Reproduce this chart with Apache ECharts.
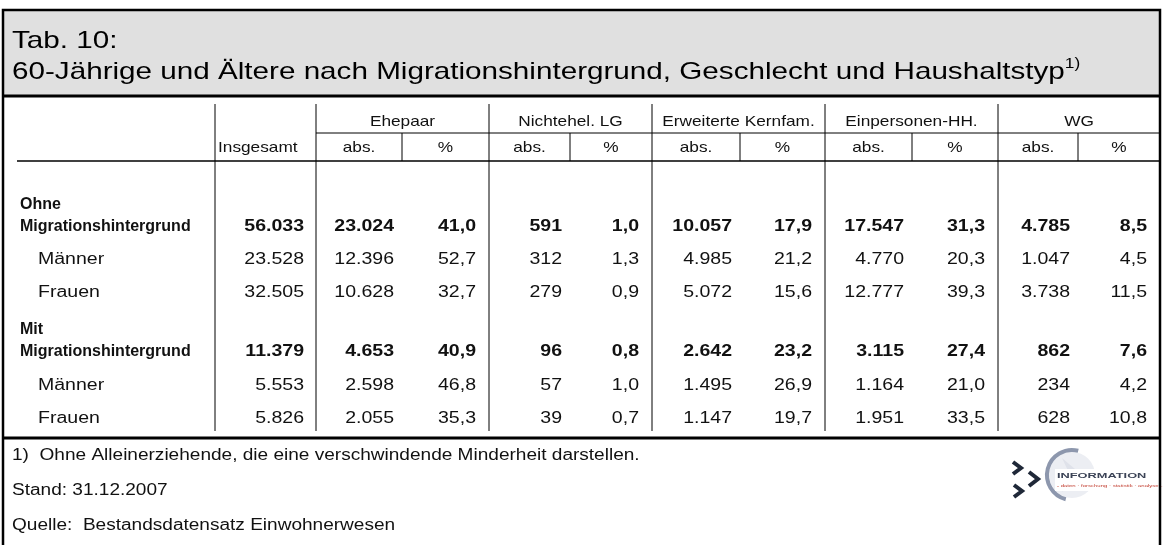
<!DOCTYPE html>
<html>
<head>
<meta charset="utf-8">
<script src="https://cdn.jsdelivr.net/npm/echarts@6/dist/echarts.min.js"></script>
<style>
  html, body { margin: 0; padding: 0; background: #fff; }
  #chart { width: 1163px; height: 545px; }
</style>
</head>
<body>
<div id="chart"></div>
<script>
// table content
const groups = ['Ehepaar', 'Nichtehel. LG', 'Erweiterte Kernfam.', 'Einpersonen-HH.', 'WG'];
const subHeads = ['abs.', '%'];
const totalHead = 'Insgesamt';

const ohneTotal = [56033, 23024, 41.0, 591, 1.0, 10057, 17.9, 17547, 31.3, 4785, 8.5];
const ohneMaenner = [23528, 12396, 52.7, 312, 1.3, 4985, 21.2, 4770, 20.3, 1047, 4.5];
const ohneFrauen = [32505, 10628, 32.7, 279, 0.9, 5072, 15.6, 12777, 39.3, 3738, 11.5];
const mitTotal = [11379, 4653, 40.9, 96, 0.8, 2642, 23.2, 3115, 27.4, 862, 7.6];
const mitMaenner = [5553, 2598, 46.8, 57, 1.0, 1495, 26.9, 1164, 21.0, 234, 4.2];
const mitFrauen = [5826, 2055, 35.3, 39, 0.7, 1147, 19.7, 1951, 33.5, 628, 10.8];

const notes = [
  '1)  Ohne Alleinerziehende, die eine verschwindende Minderheit darstellen.',
  'Stand: 31.12.2007',
  'Quelle:  Bestandsdatensatz Einwohnerwesen'
];

// layout (pixel units of the hidden value axes)
const W = 1163, H = 545;
const COL_EDGES = [215, 316, 402, 489, 570, 652, 740, 825, 912, 998, 1078, 1160];
const PAD_TOTAL = 12, PAD_ABS = 8, PAD_PCT = 13;
const Y_HEAD1 = 122, Y_SUBLINE = 133, Y_HEAD2 = 148, Y_HEADLINE = 161;
const Y_TOP = 104, Y_VEND = 431, Y_BOTTOM = 438;
const ROWS = [
  { y: 227, label: 'Migrationshintergrund', pre: 'Ohne', vals: ohneTotal, bold: true },
  { y: 260, label: 'Männer', vals: ohneMaenner },
  { y: 293, label: 'Frauen', vals: ohneFrauen },
  { y: 352, label: 'Migrationshintergrund', pre: 'Mit', vals: mitTotal, bold: true },
  { y: 386, label: 'Männer', vals: mitMaenner },
  { y: 419, label: 'Frauen', vals: mitFrauen }
];
const FONT = "'Liberation Sans', Arial, sans-serif";
const SX = 1.22;

const fmtAbs = n => String(n).replace(/\B(?=(\d{3})+(?!\d))/g, '.');
const fmtPct = n => n.toFixed(1).replace('.', ',');
const isPct = i => i > 0 && (i - 1) % 2 === 1;
const padFor = i => (i === 0 ? PAD_TOTAL : isPct(i) ? PAD_PCT : PAD_ABS);

// cells
const cells = [];
cells.push({ value: [COL_EDGES[0] + 3, Y_HEAD2], text: totalHead, align: 'left', size: 15, sx: 1.15 });
groups.forEach((g, k) => {
  const a = COL_EDGES[1 + 2 * k], b = COL_EDGES[3 + 2 * k];
  cells.push({ value: [(a + b) / 2, Y_HEAD1], text: g, align: 'center', size: 15, sx: 1.15 });
  subHeads.forEach((s, j) => {
    const l = COL_EDGES[1 + 2 * k + j], r = COL_EDGES[2 + 2 * k + j];
    cells.push({ value: [(l + r) / 2, Y_HEAD2], text: s, align: 'center', size: 15, sx: 1.15 });
  });
});
ROWS.forEach(r => {
  if (r.pre) cells.push({ value: [20, r.y - 22], text: r.pre, align: 'left', bold: true, sx: 1.0 });
  cells.push({ value: [r.bold ? 20 : 38, r.y], text: r.label, align: 'left', bold: r.bold, sx: r.bold ? 1.0 : SX });
  r.vals.forEach((v, i) => {
    cells.push({
      value: [COL_EDGES[i + 1] - padFor(i), r.y],
      text: isPct(i) ? fmtPct(v) : fmtAbs(v),
      align: 'right', bold: r.bold
    });
  });
});

// rules
const rules = [];
[0, 1, 3, 5, 7, 9].forEach(i => rules.push({ value: [COL_EDGES[i], Y_TOP, COL_EDGES[i], Y_VEND], w: 1 }));
[2, 4, 6, 8, 10].forEach(i => rules.push({ value: [COL_EDGES[i], Y_SUBLINE, COL_EDGES[i], Y_HEADLINE], w: 1 }));
rules.push({ value: [COL_EDGES[1], Y_SUBLINE, COL_EDGES[11], Y_SUBLINE], w: 1 });
rules.push({ value: [17, Y_HEADLINE, COL_EDGES[11], Y_HEADLINE], w: 1.5 });
rules.push({ value: [3, 96, 1160, 96], w: 3 });
rules.push({ value: [3, Y_BOTTOM, 1160, Y_BOTTOM], w: 3 });

const chart = echarts.init(document.getElementById('chart'));
chart.setOption({
  animation: false,
  grid: { left: 0, right: 0, top: 0, bottom: 0 },
  xAxis: { type: 'value', min: 0, max: W, show: false },
  yAxis: { type: 'value', min: 0, max: H, inverse: true, show: false },
  graphic: [
    { type: 'rect', z: -1, shape: { x: 3, y: 10, width: 1157, height: 86 }, style: { fill: '#e0e0e0' } },
    { type: 'rect', z: 10, shape: { x: 3, y: 10, width: 1157, height: 560 }, style: { fill: null, stroke: '#000', lineWidth: 2.5 } },
    {
      type: 'text', x: 12, y: 26, scaleX: 1.235,
      style: {
        text: 'Tab. 10:\n60-Jährige und Ältere nach Migrationshintergrund, Geschlecht und Haushaltstyp{s|1)}',
        font: '24px ' + FONT, fill: '#000', lineHeight: 31, verticalAlign: 'top',
        rich: { s: { fontSize: 14, fontFamily: FONT, verticalAlign: 'top', padding: [0, 0, 14, 0] } }
      }
    },
    ...notes.map((t, i) => ({
      type: 'text', x: 12, y: 456 + i * 35, scaleX: 1.19,
      style: { text: t, font: '16px ' + FONT, fill: '#111', verticalAlign: 'middle' }
    })),
    // logo
    { type: 'circle', shape: { cx: 1072, cy: 475, r: 23 }, style: { fill: '#eceef3' } },
    { type: 'polygon', shape: { points: [[1062, 458], [1082, 475], [1062, 492], [1070, 475]] }, style: { fill: '#dfe2ea' } },
    { type: 'arc', shape: { cx: 1072, cy: 475, r: 25, startAngle: -Math.PI * 0.42, endAngle: Math.PI * 0.58, clockwise: false }, style: { stroke: '#8d97ad', lineWidth: 4, fill: null } },
    { type: 'polyline', shape: { points: [[1013, 462], [1021, 468], [1013, 474]] }, style: { stroke: '#1f2838', lineWidth: 4, fill: null } },
    { type: 'polyline', shape: { points: [[1029, 472], [1038, 479], [1029, 486]] }, style: { stroke: '#1f2838', lineWidth: 4, fill: null } },
    { type: 'polyline', shape: { points: [[1014, 485], [1022, 491], [1014, 497]] }, style: { stroke: '#1f2838', lineWidth: 4, fill: null } },
    { type: 'rect', shape: { x: 1055, y: 469, width: 99, height: 22 }, style: { fill: '#fff' } },
    { type: 'text', x: 1057, y: 476, scaleX: 1.6, style: { text: 'INFORMATION', font: 'bold 8px ' + FONT, fill: '#3b4356', verticalAlign: 'middle' } },
    { type: 'text', x: 1057, y: 486, scaleX: 1.5, style: { text: '- daten · forschung · statistik · analyse -', font: '4px ' + FONT, fill: '#c0392b', verticalAlign: 'middle' } }
  ],
  series: [
    {
      type: 'custom', name: 'rules', coordinateSystem: 'cartesian2d', silent: true,
      data: rules,
      renderItem: (params, api) => {
        const p1 = api.coord([api.value(0), api.value(1)]);
        const p2 = api.coord([api.value(2), api.value(3)]);
        return {
          type: 'line',
          shape: { x1: p1[0], y1: p1[1], x2: p2[0], y2: p2[1] },
          style: { stroke: '#000', lineWidth: rules[params.dataIndex].w }
        };
      }
    },
    {
      type: 'custom', name: 'cells', coordinateSystem: 'cartesian2d', silent: true,
      data: cells,
      renderItem: (params, api) => {
        const c = cells[params.dataIndex];
        const p = api.coord([api.value(0), api.value(1)]);
        return {
          type: 'text', x: p[0], y: p[1], scaleX: c.sx || SX,
          style: {
            text: c.text, align: c.align, verticalAlign: 'middle',
            fontSize: c.size || 16, fontFamily: FONT,
            fontWeight: c.bold ? 'bold' : 'normal', fill: '#111'
          }
        };
      }
    }
  ]
});
</script>
</body>
</html>
